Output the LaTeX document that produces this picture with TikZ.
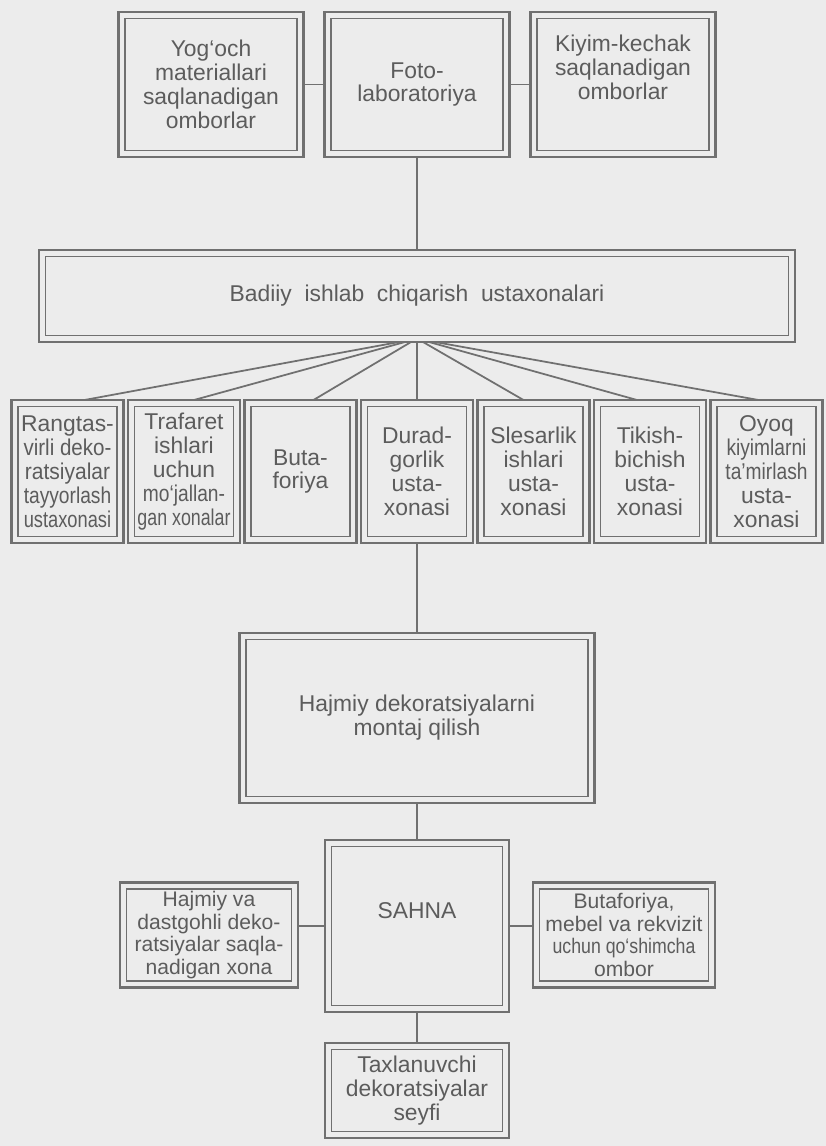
\documentclass[tikz,border=0pt]{standalone}
\usepackage{fontspec}
\setmainfont{Liberation Sans}
\definecolor{PaperGray}{RGB}{236,236,236}
\definecolor{LineGray}{RGB}{112,112,112}
\definecolor{InkGray}{RGB}{92,92,92}
\usetikzlibrary{positioning,calc}
\newcommand{\narrowtext}[2][0.84]{\scalebox{#1}[1]{#2}}

\begin{document}
\begin{tikzpicture}[
      every node/.style={font=\fontsize{13}{13.6}\selectfont, align=center, text=InkGray},
      dbox/.style      ={draw=LineGray, line width=1.6pt, fill=PaperGray, inner sep=2pt, outer sep=0pt,
                         path picture={\draw[LineGray, line width=0.8pt]
                           ([shift={(1.3mm,1.3mm)}]path picture bounding box.south west) rectangle
                           ([shift={(-1.3mm,-1.3mm)}]path picture bounding box.north east);}},
      store/.style     ={dbox, minimum width=37mm, minimum height=29mm},
      shop/.style      ={dbox, minimum width=22.4mm, minimum height=28.6mm},
      side/.style      ={dbox, minimum height=21mm, font=\fontsize{12}{13}\selectfont},
      link/.style      ={draw=LineGray, line width=0.8pt},
      fan/.style       ={draw=LineGray, line width=1pt},
  ]
  % ─ Sheet ─
  \fill[PaperGray] (0,0) rectangle (165.2mm,-229.2mm);
  \useasboundingbox (0,0) rectangle (165.2mm,-229.2mm);

  % ─ Stores and photo lab (row 1) ─
  \node[store] at (83.4mm,-16.9mm)              (foto)   {Foto-\\laboratoriya};
  \node[store, left=4.2mm of foto]              (yogoch) {Yog‘och\\materiallari\\saqlanadigan\\omborlar};
  \node[store, right=4.2mm of foto]             (kiyim)  {Kiyim-kechak\\saqlanadigan\\omborlar\\[6pt]};

  % ─ Workshops block (row 2) ─
  \node[dbox, minimum width=151.2mm, minimum height=18.4mm, below=18.6mm of foto]
        (badiiy) {Badiiy\ \ ishlab\ \ chiqarish\ \ ustaxonalari};

  % ─ Single workshops (row 3) ─
  \node[shop, below=11.6mm of badiiy]           (durad)    {Durad-\\gorlik\\usta-\\xonasi};
  \node[shop, left=0.9mm of durad]              (butaf)    {Buta-\\foriya};
  \node[shop, left=0.9mm of butaf]              (trafaret) {Trafaret\\ishlari\\uchun\\\narrowtext{mo‘jallan-}\\\narrowtext[0.78]{gan xonalar}};
  \node[shop, left=0.9mm of trafaret]           (rang)     {Rangtas-\\\narrowtext[0.9]{virli deko-}\\\narrowtext[0.92]{ratsiyalar}\\\narrowtext{tayyorlash}\\\narrowtext[0.8]{ustaxonasi}};
  \node[shop, right=0.9mm of durad]             (slesar)   {Slesarlik\\ishlari\\usta-\\xonasi};
  \node[shop, right=0.9mm of slesar]            (tikish)   {Tikish-\\bichish\\usta-\\xonasi};
  \node[shop, right=0.9mm of tikish]            (oyoq)     {Oyoq\\\narrowtext{kiyimlarni}\\\narrowtext{ta’mirlash}\\usta-\\xonasi};

  % ─ Assembly (row 4) ─
  \node[dbox, minimum width=71mm, minimum height=34mm, below=18mm of durad]
        (montaj) {Hajmiy dekoratsiyalarni\\montaj qilish};

  % ─ Stage and its stores (rows 5-6) ─
  \node[dbox, minimum width=36.8mm, minimum height=34.4mm, below=7.4mm of montaj]
        (sahna) {SAHNA\\[4pt]};
  \node[side, minimum width=35.6mm, left=5.4mm of sahna, yshift=-1.8mm]
        (dastgoh) {Hajmiy va\\dastgohli deko-\\ratsiyalar saqla-\\nadigan xona};
  \node[side, minimum width=36.4mm, right=4.8mm of sahna, yshift=-1.8mm]
        (rekvizit) {Butaforiya,\\mebel va rekvizit\\\narrowtext{uchun qo‘shimcha}\\ombor};
  \node[dbox, minimum width=36.8mm, minimum height=19mm, below=6.2mm of sahna]
        (seyf) {Taxlanuvchi\\dekoratsiyalar\\seyfi};

  % ─ Row 1 links ─
  \draw[link] (yogoch) -- (foto);
  \draw[link] (foto) -- (kiyim);
  \draw[link] (foto) -- (badiiy);

  % ─ Fan: block → workshops ─
  \draw[fan] ([xshift=-3.6mm]badiiy.south) -- ([xshift=3.4mm]rang.north);
  \draw[fan] ([xshift=-2.4mm]badiiy.south) -- ([xshift=2mm]trafaret.north);
  \draw[fan] ([xshift=-1.2mm]badiiy.south) -- ([xshift=2.6mm]butaf.north);
  \draw[link] (badiiy) -- (durad);
  \draw[fan] ([xshift=1.2mm]badiiy.south) -- ([xshift=-2mm]slesar.north);
  \draw[fan] ([xshift=2.4mm]badiiy.south) -- ([xshift=-2.6mm]tikish.north);
  \draw[fan] ([xshift=3.6mm]badiiy.south) -- ([xshift=-1.6mm]oyoq.north);

  % ─ Workshops → assembly → stage ─
  \draw[link] (durad) -- (montaj);
  \draw[link] (montaj) -- (sahna);

  % ─ Stage links ─
  \draw[link] (sahna.west) -- (sahna.west -| dastgoh.east);
  \draw[link] (sahna.east) -- (sahna.east -| rekvizit.west);
  \draw[link] (sahna) -- (seyf);
  \end{tikzpicture}
\end{document}
